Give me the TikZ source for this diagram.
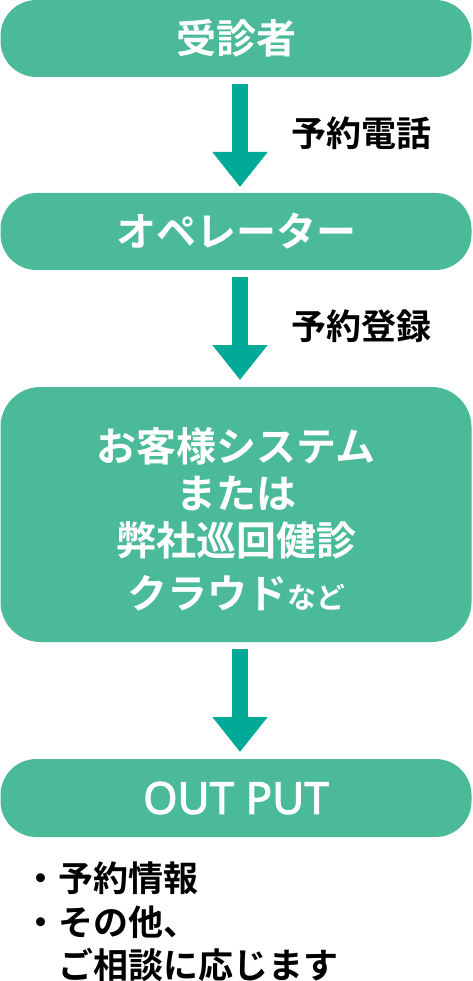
\documentclass[tikz,border=0pt]{standalone}
\usepackage{fontspec}
\usetikzlibrary{arrows.meta}
\newfontfamily\jp{Noto Sans CJK JP}[BoldFont={Noto Sans CJK JP Bold}]
\newfontfamily\latn{Noto Sans}[FakeBold=2.4]
\definecolor{boxgreen}{RGB}{75,186,152}
\definecolor{arrowteal}{RGB}{0,170,150}
\begin{document}
\begin{tikzpicture}[x=1pt,y=-1pt,
  box/.style={fill=boxgreen, draw=none, rounded corners=36pt, minimum width=471pt,
    text=white, font=\jp\bfseries\fontsize{40}{47}\selectfont, align=center, inner sep=0pt},
  flow/.style={draw=arrowteal, line width=16pt, -{Triangle[width=53pt,length=35pt]}},
  lbl/.style={anchor=west, text=black, font=\jp\bfseries\fontsize{35}{40}\selectfont, inner sep=0pt},
  note/.style={anchor=west, text=black, font=\jp\bfseries\fontsize{35}{40}\selectfont, inner sep=0pt}
]
\useasboundingbox (0,0) rectangle (472,981);
\node[box, minimum height=77pt] (b1) at (236,38.5) {受診者};
\node[box, minimum height=77pt] (b2) at (236,231.5) {オペレーター};
\node[box, minimum height=255pt, rounded corners=40pt] (b3) at (236,514.5) {};
\node[text=white, font=\jp\bfseries\fontsize{40}{47}\selectfont, align=center, inner sep=0pt]
  (t3) at (236,519)
  {お客様システム\\または\\弊社巡回健診\\[6pt]クラウド{\fontsize{29}{30}\selectfont など}};
\node[box, minimum height=78pt, font=\latn\fontsize{44}{50}\selectfont] (b4) at (236,798) {OUT PUT};

\coordinate (a1s) at (240,84);  \coordinate (a1e) at (240,187);
\coordinate (a2s) at (240,277); \coordinate (a2e) at (240,380);
\coordinate (a3s) at (240,649); \coordinate (a3e) at (240,752);
\draw[flow] (b1.south -| a1s) ++(0,7) -- (a1e);
\draw[flow] (b2.south -| a2s) ++(0,7) -- (a2e);
\draw[flow] (b3.south -| a3s) ++(0,7) -- (a3e);

\node[lbl] (l1) at (291,133) {予約電話};
\node[lbl] (l2) at (291,326) {予約登録};

\node[note] (n1) at (23,878) {・予約情報};
\node[note] (n2) at (23,922) {・その他、};
\node[note] (n3) at (58,965) {ご相談に応じます};
\end{tikzpicture}
\end{document}
